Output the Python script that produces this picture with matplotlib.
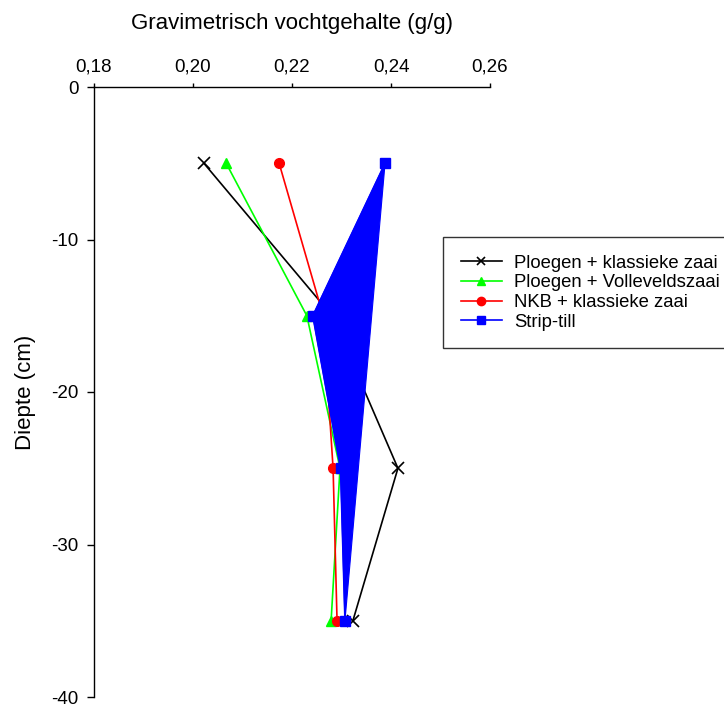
import matplotlib
matplotlib.use("Agg")
import matplotlib.pyplot as plt
from matplotlib.ticker import FuncFormatter

plt.rcParams['font.family'] = ['Liberation Sans', 'DejaVu Sans']

depth = [-5, -15, -25, -35]
ploegen_klassiek = [0.2022, 0.2281, 0.2414, 0.2323]
ploegen_vollevelds = [0.2067, 0.2230, 0.2297, 0.2279]
nkb_klassiek = [0.2174, 0.2263, 0.2283, 0.2291]
strip_till = [0.2388, 0.2242, 0.2298, 0.2307]

labels = ["Ploegen + klassieke zaai", "Ploegen + Volleveldszaai",
          "NKB + klassieke zaai", "Strip-till"]
xticks = [0.18, 0.20, 0.22, 0.24, 0.26]
yticks = [0, -10, -20, -30, -40]

fig = plt.figure(figsize=(7.24, 7.05), dpi=100)
ax = fig.add_axes([94/724, 1-697/705, (490-94)/724, (697-87)/705])

ax.plot(ploegen_klassiek, depth, color='black', lw=1.2, marker='x', ms=8, mew=1.2, zorder=2, label=labels[0])
ax.plot(ploegen_vollevelds, depth, color='#00ff00', lw=1.2, marker='^', ms=7, zorder=2, label=labels[1])
ax.plot(nkb_klassiek, depth, color='red', lw=1.2, marker='o', ms=7, zorder=2, label=labels[2])
ax.fill(strip_till, depth, color='blue', lw=0.8, zorder=3)
ax.plot(strip_till, depth, color='blue', lw=1.2, marker='s', ms=7, zorder=3.5, label=labels[3])

ax.set_xlim(0.18, 0.26)
ax.set_ylim(-40, 0)
ax.set_xticks(xticks)
ax.set_yticks(yticks)
ax.xaxis.tick_top()
ax.xaxis.set_label_position('top')
ax.xaxis.set_major_formatter(FuncFormatter(lambda v, p: f"{v:.2f}".replace('.', ',')))
ax.yaxis.set_major_formatter(FuncFormatter(lambda v, p: f"{v:.0f}"))
for s in ['right', 'bottom']:
    ax.spines[s].set_visible(False)
for s in ['top', 'left']:
    ax.spines[s].set_linewidth(1.0)
ax.tick_params(axis='x', direction='out', length=3.2, width=1.0, labelsize=13.5, pad=5)
ax.tick_params(axis='y', direction='out', length=5, width=1.0, labelsize=13.5, pad=6)
ax.set_xlabel("Gravimetrisch vochtgehalte (g/g)", fontsize=16, labelpad=21)
ax.set_ylabel("Diepte (cm)", fontsize=16, labelpad=11)

leg = ax.legend(loc='upper left', bbox_to_anchor=(443/724, 1-237/705), bbox_transform=fig.transFigure,
                fontsize=13.3, frameon=True, fancybox=False, edgecolor='black',
                handlelength=2.25, borderpad=0.95, labelspacing=0.15, handletextpad=0.65, borderaxespad=0)
leg.get_frame().set_linewidth(1.0)
for h in leg.legend_handles:
    h.set_markersize(6)

fig.savefig("out.png", dpi=100)
